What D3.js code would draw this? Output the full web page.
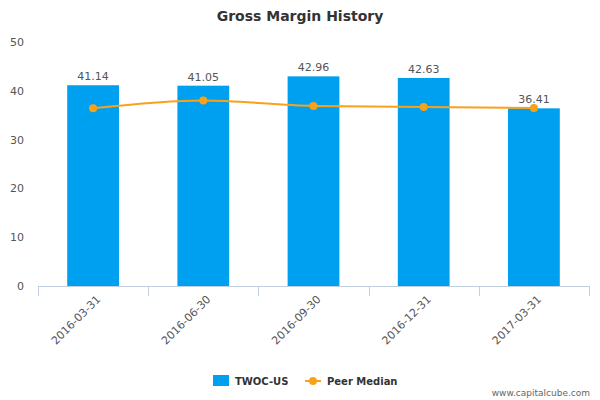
<!DOCTYPE html>
<html><head><meta charset="utf-8">
<script src="https://cdn.jsdelivr.net/npm/d3@7"></script>
<style>body{margin:0;background:#fff}text{font-family:"DejaVu Sans",sans-serif}</style>
</head><body><svg id="c" width="600" height="400"></svg>
<script>
const categories = ['2016-03-31', '2016-06-30', '2016-09-30', '2016-12-31', '2017-03-31'];
const companyValues = [41.14, 41.05, 42.96, 42.63, 36.41];
const peerValues = [36.4, 38.0, 36.9, 36.7, 36.5];
const yTicks = [0, 10, 20, 30, 40, 50];

const svg = d3.select('#c');
const plotLeft = 38, plotRight = 589, plotTop = 42, plotBottom = 286;

const x = d3.scaleBand().domain(categories).range([plotLeft, plotRight]).paddingInner(0.53).paddingOuter(0.265);
const y = d3.scaleLinear().domain([0, 50]).range([plotBottom, plotTop]);

svg.append('text').attr('x', 300).attr('y', 21).attr('text-anchor', 'middle')
  .attr('font-size', 14).attr('font-weight', 'bold').attr('fill', '#333').text('Gross Margin History');

// y labels
svg.selectAll('.yl').data(yTicks).enter().append('text')
  .attr('x', 24).attr('y', d => y(d) + 4).attr('text-anchor', 'end')
  .attr('font-size', 11).attr('fill', '#555').text(d => d);

// bars
svg.selectAll('.bar').data(companyValues).enter().append('rect')
  .attr('x', (d, i) => x(categories[i])).attr('width', x.bandwidth())
  .attr('y', d => y(d)).attr('height', d => plotBottom - y(d)).attr('fill', '#00a0f0');

svg.selectAll('.bl').data(companyValues).enter().append('text')
  .attr('x', (d, i) => x(categories[i]) + x.bandwidth() / 2).attr('y', d => y(d) - 5)
  .attr('text-anchor', 'middle').attr('font-size', 11).attr('fill', '#555').text(d => d.toFixed(2));

// x axis
const step = x.step();
svg.append('line').attr('x1', plotLeft).attr('x2', plotRight).attr('y1', plotBottom + 0.5).attr('y2', plotBottom + 0.5)
  .attr('stroke', '#c0d0e0');
d3.range(categories.length + 1).forEach(i => {
  const tx = Math.round(plotLeft + i * step) + 0.5;
  svg.append('line').attr('x1', tx).attr('x2', tx).attr('y1', plotBottom).attr('y2', plotBottom + 10).attr('stroke', '#c0d0e0');
});
svg.selectAll('.xl').data(categories).enter().append('text')
  .attr('transform', d => `translate(${x(d) + x.bandwidth() / 2 + 8},${plotBottom + 14}) rotate(-45)`)
  .attr('text-anchor', 'end').attr('font-size', 11).attr('fill', '#555').text(d => d);

// peer line
const line = d3.line().x((d, i) => x(categories[i]) + x.bandwidth() / 2).y(d => y(d)).curve(d3.curveMonotoneX);
svg.append('path').datum(peerValues).attr('d', line).attr('fill', 'none').attr('stroke', '#f8a21a').attr('stroke-width', 2);
svg.selectAll('.pt').data(peerValues).enter().append('circle')
  .attr('cx', (d, i) => x(categories[i]) + x.bandwidth() / 2).attr('cy', d => y(d)).attr('r', 4).attr('fill', '#f8a21a');

// legend
svg.append('rect').attr('x', 213).attr('y', 375).attr('width', 16).attr('height', 11).attr('fill', '#00a0f0');
svg.append('text').attr('x', 235).attr('y', 385).attr('font-size', 10).attr('font-weight', 'bold').attr('fill', '#333').text('TWOC-US');
svg.append('line').attr('x1', 305).attr('x2', 321).attr('y1', 381).attr('y2', 381).attr('stroke', '#f8a21a').attr('stroke-width', 2);
svg.append('circle').attr('cx', 313).attr('cy', 381).attr('r', 4).attr('fill', '#f8a21a');
svg.append('text').attr('x', 327).attr('y', 385).attr('font-size', 10).attr('font-weight', 'bold').attr('fill', '#333').text('Peer Median');

svg.append('text').attr('x', 590).attr('y', 396).attr('text-anchor', 'end').attr('font-size', 9).attr('fill', '#666').text('www.capitalcube.com');
</script></body></html>
